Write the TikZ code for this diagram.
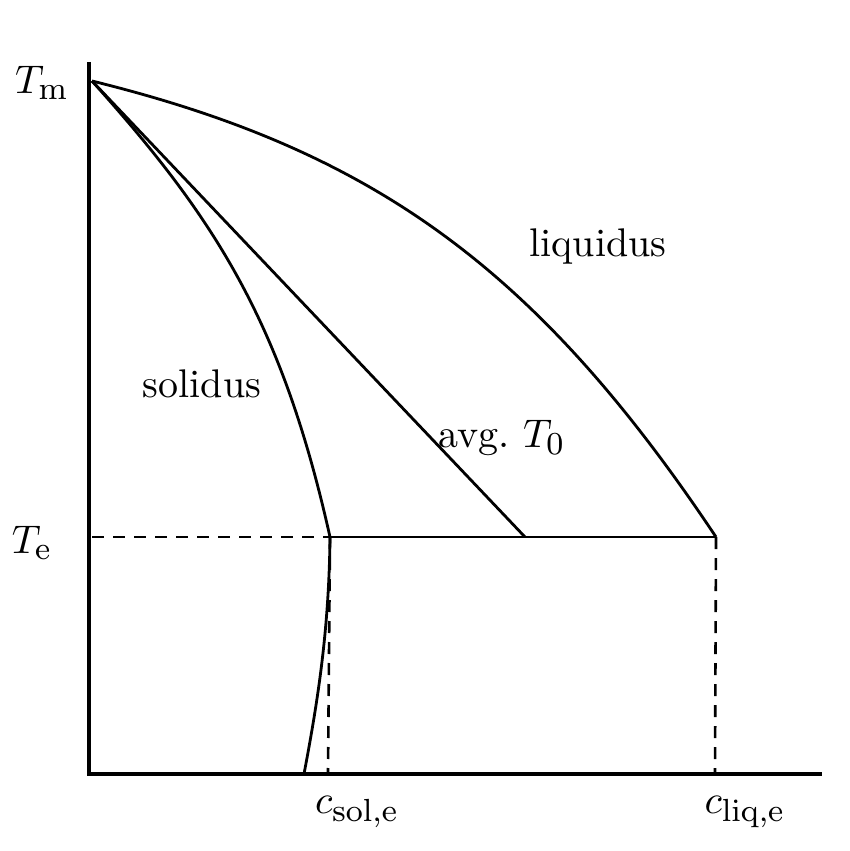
\documentclass[tikz,border=0pt]{standalone}
\usepackage{amsmath}
\usepackage{graphicx}
\DeclareMathSizes{10}{10}{8}{6}
\newcommand{\biglbl}[1]{\scalebox{4}{#1}}
\begin{document}
\begin{tikzpicture}[x=1pt,y=-1pt,
  axis/.style={line width=3.4pt},
  curve/.style={line width=2.8pt},
  guide/.style={line width=2.6pt,dash pattern=on 12pt off 9pt},
  lbl/.style={inner sep=0pt,font=\fontsize{10}{12}\selectfont}]
\useasboundingbox (0,0) rectangle (850,851);
% key points
\coordinate (top) at (89,62);
\coordinate (orig) at (89,774);
\coordinate (xend) at (822,774);
\coordinate (Tm) at (92,81);
\coordinate (Te0) at (92,537);
\coordinate (S) at (330,537);
\coordinate (A) at (525,537);
\coordinate (L) at (716,537);
\coordinate (Sb) at (304,774);
\coordinate (Sd) at (328,772);
\coordinate (Ld) at (715,772);
% axes
\draw[axis] (top) -- (orig) -- (xend);
% solidus
\draw[curve] (Tm) .. controls (215,218) and (282,322) .. (S);
\draw[curve] (S) .. controls (329,630) and (318,700) .. (Sb);
% avg T0
\draw[curve] (Tm) -- (A);
% liquidus
\draw[curve] (Tm) .. controls (372,150) and (536,267) .. (L);
% eutectic line
\draw[curve] (S) -- (L);
% dashed guides
\draw[guide] (Te0) -- (S);
\draw[guide] (S) -- (Sd);
\draw[guide] (L) -- (Ld);
% labels
\node[lbl] (lTm) at (42,83) {\biglbl{$T_{\mathrm{m}}$}};
\node[lbl] (lTe) at (32,543) {\biglbl{$T_{\mathrm{e}}$}};
\node[lbl] (lliq) at (598,246) {\biglbl{liquidus}};
\node[lbl] (lsol) at (202,384) {\biglbl{solidus}};
\node[lbl] (lavg) at (502,438) {\biglbl{avg.\ $T_0$}};
\node[lbl] (lcs) at (357,812) {\biglbl{$c_{\mathrm{sol{,}e}}$}};
\node[lbl] (lcl) at (745,812) {\biglbl{$c_{\mathrm{liq{,}e}}$}};
\end{tikzpicture}
\end{document}
